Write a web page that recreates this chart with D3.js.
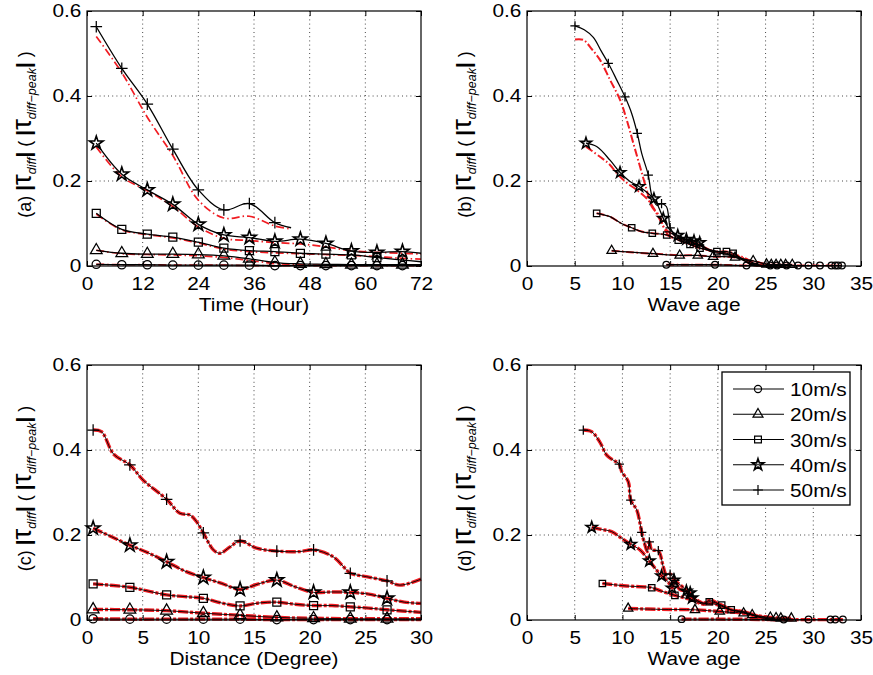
<!DOCTYPE html>
<html>
<head>
<meta charset="utf-8">
<script src="https://cdn.jsdelivr.net/npm/d3@7"></script>
<style>
  body { margin: 0; background: #fff; }
  text { font-family: "Liberation Sans", Arial, Helvetica, sans-serif; fill: #000; }
</style>
</head>
<body>
<svg id="fig" width="873" height="675"></svg>
<script>
// ---- data ----
const speeds = ["10m/s", "20m/s", "30m/s", "40m/s", "50m/s"];
const shapes = ["circle", "triangle", "square", "star", "plus"];
const yTicks = [0, 0.2, 0.4, 0.6];

// (a) vs time (hour); markers at every entry but the last
const hoursA = [2, 7.5, 13, 18.5, 24, 29.5, 35, 40.5, 46, 51.5, 57, 62.5, 68, 72];
const hours50A = [2, 7.5, 13, 18.5, 24, 29.5, 35, 40.5, 44];
const a10  = [0.004, 0.003, 0.003, 0.002, 0.002, 0.002, 0.002, 0.001, 0.001, 0.001, 0.001, 0.001, 0.001, 0.001];
const a10r = [0.004, 0.003, 0.003, 0.002, 0.002, 0.002, 0.001, 0.001, 0.001, 0.001, 0.001, 0.001, 0.001, 0.001];
const a20  = [0.037, 0.030, 0.028, 0.028, 0.027, 0.024, 0.017, 0.008, 0.005, 0.004, 0.003, 0.003, 0.003, 0.003];
const a20r = [0.037, 0.029, 0.027, 0.026, 0.024, 0.020, 0.013, 0.006, 0.003, 0.002, 0.002, 0.002, 0.002, 0.002];
const a30  = [0.124, 0.086, 0.075, 0.068, 0.056, 0.042, 0.036, 0.034, 0.030, 0.028, 0.026, 0.020, 0.014, 0.010];
const a30r = [0.122, 0.085, 0.074, 0.066, 0.054, 0.040, 0.034, 0.031, 0.029, 0.027, 0.025, 0.022, 0.018, 0.016];
const a40  = [0.289, 0.216, 0.179, 0.145, 0.098, 0.073, 0.067, 0.058, 0.063, 0.053, 0.035, 0.032, 0.034, 0.030];
const a40r = [0.280, 0.210, 0.177, 0.140, 0.092, 0.065, 0.060, 0.055, 0.052, 0.045, 0.036, 0.032, 0.030, 0.028];
const a50  = [0.563, 0.465, 0.381, 0.275, 0.179, 0.132, 0.147, 0.102, 0.090];
const a50r = [0.540, 0.455, 0.350, 0.260, 0.155, 0.113, 0.117, 0.094, 0.087];

// (b) vs wave age: [waveAge, value, marker?]
const b10 = [[14.6,0.003,1],[17,0.003,0],[19.7,0.003,1],[23.0,0.001,1],[25.5,0.001,1],[26.2,0.001,1],[27.2,0.001,1],[28.4,0.001,1],[29.5,0.001,1],[30.7,0.001,1],[31.9,0.001,1],[32.3,0.001,1],[32.6,0.001,1],[33.0,0.001,1]];
const b20 = [[8.87,0.036,1],[10.5,0.033,0],[13.2,0.029,1],[16.0,0.025,1],[17.9,0.025,1],[19.5,0.022,1],[20.6,0.022,0],[21.8,0.020,1],[22.7,0.016,0],[23.7,0.012,1],[24.4,0.008,0],[25.1,0.004,1],[25.6,0.003,1],[26.1,0.003,1],[26.6,0.003,1],[27.1,0.003,1],[27.8,0.003,1]];
const b30 = [[7.3,0.124,1],[8.7,0.116,0],[9.9,0.100,0],[10.97,0.090,1],[12.0,0.081,0],[13.13,0.077,1],[14.64,0.073,1],[15.85,0.061,1],[17.08,0.051,1],[18.13,0.042,1],[19.9,0.034,1],[20.9,0.034,1],[21.6,0.030,1],[22.7,0.014,0],[23.7,0.002,0],[26,0.001,0]];
const b40 = [[6.18,0.289,1],[7.3,0.281,0],[8.7,0.249,0],[9.75,0.220,1],[10.79,0.199,0],[11.74,0.187,1],[12.89,0.167,0],[13.3,0.158,1],[13.76,0.140,0],[14.28,0.112,1],[14.98,0.085,0],[15.8,0.072,1],[16.7,0.063,1],[17.5,0.059,1],[18.1,0.055,1],[18.8,0.040,0],[19.5,0.032,0],[20.9,0.028,0],[22.5,0.015,0],[23.7,0.004,0],[25,0.001,0]];
const b40r = [[6.18,0.281],[7.65,0.257],[8.6,0.240],[9.57,0.214],[10.5,0.195],[11.5,0.179],[12.71,0.155],[13.3,0.135],[13.9,0.110],[14.4,0.090],[15.2,0.075],[16.7,0.061],[18.1,0.050],[19.5,0.035],[21,0.030],[22.5,0.020],[23.7,0.006],[25,0.001]];
const b50 = [[5.03,0.565,1],[6.0,0.556,0],[6.95,0.538,0],[7.8,0.505,0],[8.52,0.477,1],[9.4,0.438,0],[10.27,0.398,1],[10.97,0.359,0],[11.56,0.312,1],[12.02,0.265,0],[12.71,0.214,1],[13.07,0.167,0],[13.6,0.143,0],[14.1,0.147,1],[14.6,0.140,0],[14.85,0.115,0],[15.0,0.090,1],[15.5,0.075,0],[16.7,0.061,1],[18.1,0.049,1],[19.2,0.038,0],[20.9,0.030,0],[23.0,0.014,0],[24.4,0.002,0],[27,0.001,0]];
const b50r = [[5.03,0.533],[5.9,0.532],[6.8,0.510],[7.65,0.485],[8.7,0.438],[9.75,0.391],[10.45,0.344],[11.14,0.289],[11.84,0.234],[12.54,0.179],[13.07,0.140],[13.94,0.116],[14.3,0.092],[15.0,0.069],[16.7,0.058],[18.1,0.046],[19.2,0.036],[20.9,0.030],[22.5,0.022],[23.7,0.008],[24.4,0.002],[27,0.001]];

// (c) vs distance (degree)
const c10 = [[0.55,0.003,1],[3.85,0.002,1],[7.15,0.002,1],[10.45,0.002,1],[13.75,0.002,1],[17.05,0.001,1],[20.35,0.001,1],[23.65,0.001,1],[26.95,0.001,1],[30,0.001,0]];
const c20 = [[0.55,0.025,1],[3.85,0.024,1],[7.15,0.022,1],[10.45,0.016,1],[13.75,0.011,1],[17.05,0.006,1],[20.35,0.004,1],[23.65,0.003,1],[26.95,0.003,1],[30,0.003,0]];
const c30 = [[0.55,0.085,1],[3.85,0.077,1],[5.5,0.068,0],[7.15,0.059,1],[8.8,0.055,0],[10.45,0.051,1],[12.1,0.040,0],[13.75,0.033,1],[15.4,0.040,0],[17.05,0.042,1],[18.7,0.037,0],[20.35,0.034,1],[22,0.034,0],[23.65,0.031,1],[25.3,0.028,0],[26.95,0.024,1],[30,0.018,0]];
const c40 = [[0.55,0.216,1],[2.2,0.196,0],[3.85,0.176,1],[5.5,0.158,0],[7.15,0.137,1],[8.8,0.115,0],[10.45,0.100,1],[12.1,0.086,0],[13.75,0.072,1],[15.4,0.085,0],[17.05,0.094,1],[18.7,0.078,0],[20.35,0.065,1],[22,0.066,0],[23.65,0.065,1],[25.3,0.061,0],[26.95,0.051,1],[28.5,0.042,0],[30,0.039,0]];
const c50 = [[0.55,0.447,1],[1.3,0.443,0],[2.4,0.390,0],[3.85,0.365,1],[5.05,0.329,0],[7.15,0.284,1],[8.35,0.251,0],[9.25,0.247,0],[9.85,0.231,0],[10.45,0.205,1],[11.35,0.165,0],[11.95,0.157,0],[12.85,0.172,0],[13.75,0.186,1],[15.24,0.169,0],[17.05,0.162,1],[19.1,0.161,0],[20.35,0.165,1],[22.1,0.149,0],[23.3,0.118,0],[23.65,0.110,1],[25.1,0.102,0],[26.95,0.092,1],[28.1,0.082,0],[30,0.096,0]];

// (d) vs wave age
const d10 = [[16.2,0.002,1],[20,0.002,0],[26.9,0.001,1],[29.5,0.001,1],[31.8,0.001,1],[32.3,0.001,1],[33.1,0.001,1]];
const d20 = [[10.6,0.027,1],[13.94,0.025,0],[17.6,0.024,1],[20.2,0.020,1],[22.7,0.016,1],[23.6,0.012,1],[25.5,0.006,1],[26.1,0.005,1],[26.6,0.004,1],[27.7,0.004,1]];
const d30 = [[7.9,0.086,1],[8.7,0.084,0],[10.45,0.080,0],[13.07,0.076,1],[13.94,0.069,0],[14.64,0.064,0],[15.5,0.058,1],[16.7,0.051,0],[17.4,0.047,0],[18.5,0.037,0],[19.1,0.043,1],[20.4,0.035,1],[21.4,0.024,1],[22.7,0.018,0],[24.4,0.006,0],[26,0.001,0]];
const d40 = [[6.78,0.218,1],[7.82,0.213,0],[8.87,0.208,0],[9.93,0.192,0],[10.87,0.178,1],[11.84,0.165,0],[12.82,0.139,1],[13.41,0.122,0],[14.1,0.104,1],[14.8,0.090,0],[15.2,0.075,1],[15.4,0.094,1],[16.0,0.072,0],[16.7,0.068,1],[17.1,0.064,1],[17.3,0.052,1],[18.5,0.040,0],[19.5,0.038,0],[20.4,0.033,0],[21.3,0.024,0],[22.7,0.018,0],[24.4,0.006,0],[26,0.001,0]];
const d50 = [[5.9,0.447,1],[6.78,0.443,0],[7.65,0.418,0],[8.35,0.388,0],[9.04,0.376,0],[9.67,0.367,1],[9.93,0.349,0],[10.62,0.325,0],[10.87,0.282,1],[11.5,0.259,0],[11.84,0.228,0],[12.02,0.206,1],[12.37,0.176,0],[12.61,0.161,0],[12.82,0.184,1],[13.07,0.165,0],[13.76,0.163,1],[14.28,0.125,0],[14.6,0.106,0],[15.0,0.108,1],[15.5,0.093,1],[16.7,0.071,0],[17.4,0.055,0],[18.5,0.039,0],[19.2,0.047,0],[20.4,0.033,0],[21.3,0.024,0],[22.7,0.020,0],[24.4,0.008,0],[26.2,0.002,0],[28,0.001,0]];

// ---- helpers ----
const RED = "#f01c22";
const svg = d3.select("#fig");
const STRETCH = "scale(1.12,1)";

function fromHours(hours, vals, nMarks) {
  return hours.map((h, i) => [h, vals[i], i < nMarks ? 1 : 0]);
}

function markerPath(shape, k) {
  if (shape === "plus") {
    const s = 5.8 * k;
    return `M${-s},0H${s}M0,${-s}V${s}`;
  }
  const t = {circle: [d3.symbolCircle, 55], triangle: [d3.symbolTriangle, 60],
             square: [d3.symbolSquare, 64], star: [d3.symbolStar, 58]}[shape];
  return d3.symbol(t[0], t[1] * k * k)();
}

function drawPanel(cfg) {
  const g = svg.append("g");
  const x = d3.scaleLinear().domain(cfg.xdom).range([cfg.left, cfg.right]);
  const y = d3.scaleLinear().domain([0, 0.6]).range([cfg.bottom, cfg.top]);

  // dotted grid
  g.append("g").selectAll("line").data(cfg.xticks.slice(1, -1)).join("line")
    .attr("x1", d => x(d)).attr("x2", d => x(d))
    .attr("y1", cfg.top).attr("y2", cfg.bottom)
    .attr("stroke", "#333").attr("stroke-width", 0.9).attr("stroke-dasharray", "1,3.2");
  g.append("g").selectAll("line").data(yTicks.slice(1, -1)).join("line")
    .attr("y1", d => y(d)).attr("y2", d => y(d))
    .attr("x1", cfg.left).attr("x2", cfg.right)
    .attr("stroke", "#333").attr("stroke-width", 0.9).attr("stroke-dasharray", "1,3.2");

  // axes, ticks inward on all sides
  const axB = g.append("g").attr("transform", `translate(0,${cfg.bottom})`)
    .call(d3.axisBottom(x).tickValues(cfg.xticks).tickSize(-5).tickPadding(11).tickFormat(d3.format("d")));
  const axL = g.append("g").attr("transform", `translate(${cfg.left},0)`)
    .call(d3.axisLeft(y).tickValues(yTicks).tickSize(-5).tickPadding(5).tickFormat(d => d === 0 ? "0" : d3.format(".1f")(d)));
  g.append("g").attr("transform", `translate(0,${cfg.top})`)
    .call(d3.axisTop(x).tickValues(cfg.xticks).tickSize(-5).tickFormat(""));
  g.append("g").attr("transform", `translate(${cfg.right},0)`)
    .call(d3.axisRight(y).tickValues(yTicks).tickSize(-5).tickFormat(""));
  g.selectAll(".domain").remove();
  g.selectAll(".tick line").attr("stroke", "#000").attr("stroke-width", 1);
  [axB, axL].forEach(a => a.selectAll("text")
    .style("font-size", "18.6px").style("font-family", null).attr("fill", "#000")
    .attr("transform", STRETCH));

  // series: red dash-dot underneath, black solid with markers on top
  const line = d3.line().x(d => x(d[0])).y(d => y(d[1])).curve(d3.curveCatmullRom.alpha(0.5));
  cfg.series.forEach(s => {
    g.append("path").attr("d", line(s.red)).attr("fill", "none")
      .attr("stroke", RED).attr("stroke-width", cfg.redWidth)
      .attr("stroke-dasharray", cfg.redDash);
  });
  cfg.series.forEach((s, i) => {
    g.append("path").attr("d", line(s.black)).attr("fill", "none")
      .attr("stroke", "#000").attr("stroke-width", cfg.blackWidth);
    g.append("g").selectAll("path").data(s.black.filter(d => d[2])).join("path")
      .attr("transform", d => `translate(${x(d[0])},${y(d[1])})`)
      .attr("d", markerPath(shapes[i], cfg.mk))
      .attr("fill", "none").attr("stroke", "#000")
      .attr("stroke-width", shapes[i] === "star" ? 1.6 : 1.25);
  });

  // frame
  g.append("rect").attr("x", cfg.left).attr("y", cfg.top)
    .attr("width", cfg.right - cfg.left).attr("height", cfg.bottom - cfg.top)
    .attr("fill", "none").attr("stroke", "#000").attr("stroke-width", 1.2);

  // x label
  g.append("text").attr("transform", `translate(${(cfg.left + cfg.right) / 2},${cfg.bottom + 45}) ${STRETCH}`)
    .attr("text-anchor", "middle").style("font-size", "18.6px").text(cfg.xlabel);

  // y label:  (a) |τ_diff| ( |τ_diff-peak| )
  const t = g.append("text")
    .attr("transform", `translate(${cfg.left - 56},${(cfg.top + cfg.bottom) / 2 - 4}) rotate(-90)`)
    .attr("text-anchor", "middle").style("font-size", "18px").style("white-space", "pre");
  const bar = () => t.append("tspan").style("font-size", "21px").style("font-weight", "bold").text("|");
  const tau = () => t.append("tspan").style("font-size", "27px").text("τ");
  const sub = s => t.append("tspan").style("font-size", "12.5px").style("font-style", "italic").attr("dy", 5).text(s);
  t.append("tspan").text(`(${cfg.letter}) `);
  bar(); tau(); sub("diff"); bar().attr("dy", -5);
  t.append("tspan").text(" ( ");
  bar(); tau(); sub("diff\u2212peak"); bar().attr("dy", -5);
  t.append("tspan").text(" )");

  return {g, x, y};
}

const seriesA = [
  {black: fromHours(hoursA, a10, 13), red: fromHours(hoursA, a10r, 0)},
  {black: fromHours(hoursA, a20, 13), red: fromHours(hoursA, a20r, 0)},
  {black: fromHours(hoursA, a30, 13), red: fromHours(hoursA, a30r, 0)},
  {black: fromHours(hoursA, a40, 13), red: fromHours(hoursA, a40r, 0)},
  {black: fromHours(hours50A, a50, 8), red: fromHours(hours50A, a50r, 0)}
];
const seriesB = [
  {black: b10, red: b10}, {black: b20, red: b20}, {black: b30, red: b30},
  {black: b40, red: b40r}, {black: b50, red: b50r}
];
const seriesC = [c10, c20, c30, c40, c50].map(s => ({black: s, red: s}));
const seriesD = [d10, d20, d30, d40, d50].map(s => ({black: s, red: s}));

const waveTicks = [0, 5, 10, 15, 20, 25, 30, 35];
drawPanel({letter: "a", left: 87, right: 421, top: 11, bottom: 266, xdom: [0, 72],
  xticks: [0, 12, 24, 36, 48, 60, 72], xlabel: "Time (Hour)", series: seriesA, mk: 1,
  redWidth: 1.7, redDash: "8,3,1.5,3", blackWidth: 1.3});
drawPanel({letter: "b", left: 527, right: 861, top: 11, bottom: 266, xdom: [0, 35],
  xticks: waveTicks, xlabel: "Wave age", series: seriesB, mk: 0.8,
  redWidth: 2, redDash: "8,2.5,1.5,2.5", blackWidth: 1.25});
drawPanel({letter: "c", left: 87, right: 421, top: 365, bottom: 620, xdom: [0, 30],
  xticks: [0, 5, 10, 15, 20, 25, 30], xlabel: "Distance (Degree)", series: seriesC, mk: 1,
  redWidth: 3.4, redDash: "10,2,3,2", blackWidth: 0.9});
drawPanel({letter: "d", left: 527, right: 861, top: 365, bottom: 620, xdom: [0, 35],
  xticks: waveTicks, xlabel: "Wave age", series: seriesD, mk: 0.8,
  redWidth: 3.4, redDash: "10,2,3,2", blackWidth: 0.9});

// legend in (d)
const lg = svg.append("g");
lg.append("rect").attr("x", 722).attr("y", 372).attr("width", 128).attr("height", 133)
  .attr("fill", "#fff").attr("stroke", "#000").attr("stroke-width", 1.3);
const ly = d3.scalePoint().domain(speeds).range([389, 490]);
speeds.forEach((s, i) => {
  const yy = ly(s);
  lg.append("line").attr("x1", 733).attr("x2", 784).attr("y1", yy).attr("y2", yy)
    .attr("stroke", "#000").attr("stroke-width", 1.2);
  lg.append("path").attr("transform", `translate(758,${yy})`).attr("d", markerPath(shapes[i], 0.85))
    .attr("fill", "none").attr("stroke", "#000").attr("stroke-width", shapes[i] === "star" ? 1.6 : 1.2);
  lg.append("text").attr("transform", `translate(790,${yy + 7}) ${STRETCH}`)
    .style("font-size", "18.6px").text(s);
});
</script>
</body>
</html>
